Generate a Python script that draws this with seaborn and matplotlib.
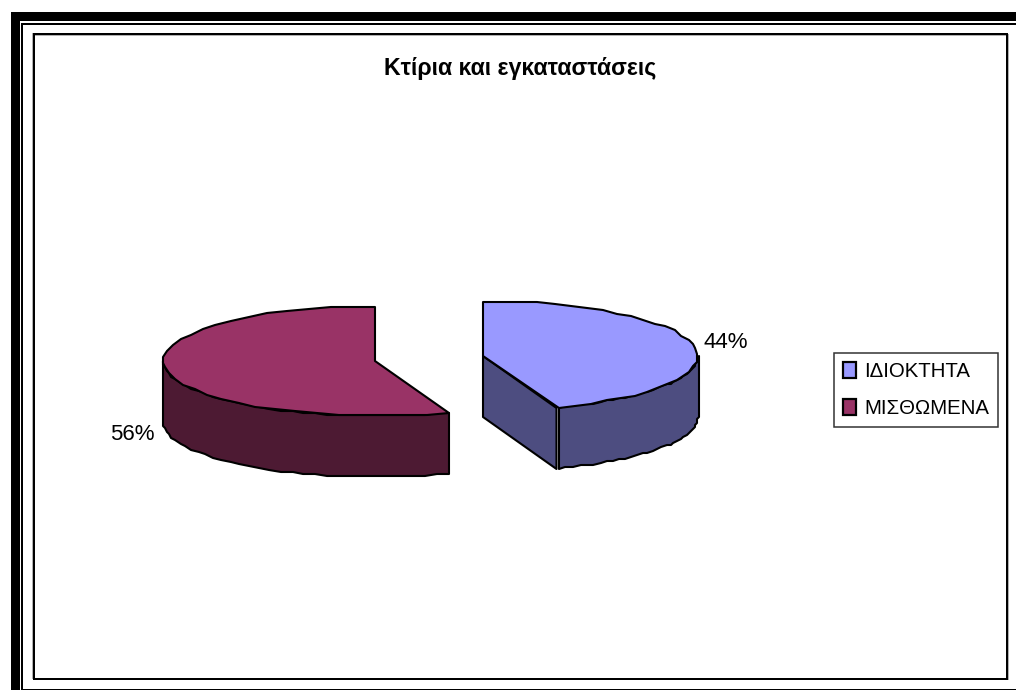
import numpy as np
import matplotlib
matplotlib.use('Agg')
import matplotlib.pyplot as plt
from matplotlib.patches import Polygon, Rectangle
import seaborn as sns

# Data
labels = ['ΙΔΙΟΚΤΗΤΑ', 'ΜΙΣΘΩΜΕΝΑ']
shares = [44.3, 55.7]
title = 'Κτίρια και εγκαταστάσεις'
top_colors = ['#9999FF', '#993366']
side_colors = ['#4D4D80', '#4D1A33']

sns.set_theme(style='white')
plt.rcParams['font.family'] = ['Liberation Sans', 'DejaVu Sans']

fig = plt.figure(figsize=(10.16, 6.9), dpi=100, facecolor='white')
ax = fig.add_axes([0, 0, 1, 1])
ax.set_xlim(0, 1016)
ax.set_ylim(690, 0)
ax.axis('off')


def box(x0, y0, x1, y1, color, z=1):
    ax.add_patch(Rectangle((x0, y0), x1 - x0, y1 - y0, fc=color, ec='none', zorder=z))


# Page border, open on the right
box(11, 12, 20, 690, 'black')
box(11, 12, 1016, 21, 'black')
box(21, 23, 23, 690, 'black')
box(21, 23, 1016, 25, 'black')
box(21, 689, 1016, 690, 'black')

# Chart frame with its soft grey shadow
box(32, 33, 33, 679, '#b0b0b0')
box(33, 35, 1007, 36, '#b0b0b0')
box(1007.5, 34, 1008.5, 680, '#b0b0b0')
box(33, 33, 35, 680, 'black', 2)
box(33, 33, 1007.5, 35, 'black', 2)
box(1006, 33, 1007.5, 680, 'black', 2)
box(33, 678, 1007.5, 680, 'black', 2)


def arc(cx, cy, a, b, start, end, n=34):
    # angles are clockwise from 12 o'clock, y axis points down
    t = np.radians(np.linspace(start, end, n))
    # coarse pixel snapping gives the stepped outline of the original
    x = cx + np.round(a * np.sin(t) / 2) * 2
    y = cy - np.round(b * np.cos(t) / 2) * 2
    return np.column_stack([x, y])


def draw_slice(cx, cy, a, b, depth, start, end, top, side, z):
    pts = arc(cx, cy, a, b, start, end)
    style = dict(ec='black', lw=1.5, joinstyle='round', zorder=z)
    # rim is only visible on the front half of the ellipse
    rim = arc(cx, cy, a, b, max(start, 90), min(end, 270))
    ax.add_patch(Polygon(np.vstack([rim, rim[::-1] + [0, depth]]), fc=side, **style))
    # cut face shows when the slice ends in the front
    if 90 < end < 270:
        tip = pts[-1] - [2.5, 0]
        face = [[cx, cy], tip, tip + [0, depth], [cx, cy + depth]]
        ax.add_patch(Polygon(face, fc=side, **style))
    ax.add_patch(Polygon(np.vstack([[cx, cy], pts]), fc=top, **style))


angle = np.cumsum([0] + shares) / sum(shares) * 360

# Exploded slices: the first one sits to the right
draw_slice(483, 356, 215, 54.9, 61, angle[0], angle[1], top_colors[0], side_colors[0], 5)
draw_slice(375, 361, 212, 54.9, 61, angle[1], angle[2], top_colors[1], side_colors[1], 4)

ax.text(520, 68.5, title, ha='center', va='center', fontsize=16.7, fontweight='bold', color='black')
ax.text(725.5, 343, f'{shares[0]:.0f}%', ha='center', va='center', fontsize=16, color='black')
ax.text(132, 435, f'{shares[1]:.0f}%', ha='center', va='center', fontsize=16, color='black')

# Legend
handles = [Rectangle((0, 0), 1, 1, fc=c, ec='black', lw=1.6) for c in top_colors]
leg = ax.legend(handles, labels, loc='center left', bbox_to_anchor=(834, 390),
                bbox_transform=ax.transData, fontsize=14.7, frameon=True, fancybox=False,
                edgecolor='#333333', framealpha=1, handlelength=0.62, handleheight=0.8,
                handletextpad=0.4, labelspacing=0.9, borderpad=0.45, borderaxespad=0,
                labelcolor='black')
leg.get_frame().set_linewidth(1.1)

fig.savefig('out.png', dpi=100)
